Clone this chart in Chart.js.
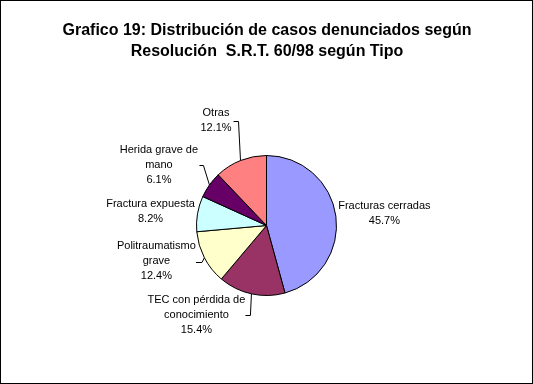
<!DOCTYPE html>
<html>
<head>
<meta charset="utf-8">
<script src="https://cdn.jsdelivr.net/npm/chart.js@4/dist/chart.umd.min.js"></script>
<style>
  html, body { margin: 0; padding: 0; background: #fff; }
  #wrap { width: 533px; height: 384px; position: relative; }
</style>
</head>
<body>
<div id="wrap"><canvas id="chart" width="533" height="384"></canvas></div>
<script>
// datos
const titleLines = ['Grafico 19: Distribución de casos denunciados según', 'Resolución  S.R.T. 60/98 según Tipo'];
const categories = [
    ['Fracturas cerradas'],
    ['TEC con pérdida de', 'conocimiento'],
    ['Politraumatismo', 'grave'],
    ['Fractura expuesta'],
    ['Herida grave de', 'mano'],
    ['Otras']
];
const percents = [45.7, 15.4, 12.4, 8.2, 6.1, 12.1];
const sliceColors = ['#9999FF', '#993366', '#FFFFCC', '#CCFFFF', '#660066', '#FF8080'];

// posición de etiquetas relativa al borde de cada porción
const labelOffsets = [[48.5, -3], [-55, 21], [-48, 3], [-47, -2], [-50.5, -19.5], [-24.5, -40.5]];
// guías: [x1, x2, dy] del tramo horizontal relativo al centro de la etiqueta
const leaders = [null, [49, 54, 0], [39.5, 45.5, 1], null, [40.5, 44.5, 0], [17.5, 22.5, 0.5]];

const FONT = 'Arial, "Liberation Sans", sans-serif';

const decorPlugin = {
    id: 'decor',
    beforeDraw(chart) {
        const ctx = chart.ctx;
        ctx.save();
        ctx.fillStyle = '#fff';
        ctx.fillRect(0, 0, chart.width, chart.height);
        ctx.fillStyle = '#000';
        ctx.font = 'bold 16px ' + FONT;
        ctx.textAlign = 'center';
        ctx.textBaseline = 'alphabetic';
        titleLines.forEach((t, i) => ctx.fillText(t, 267, 35 + i * 21));
        ctx.restore();
    },
    afterDatasetsDraw(chart) {
        const ctx = chart.ctx;
        const meta = chart.getDatasetMeta(0);
        ctx.save();
        ctx.font = '11px ' + FONT;
        ctx.fillStyle = '#000';
        ctx.strokeStyle = '#000';
        ctx.lineWidth = 1;
        ctx.textAlign = 'center';
        ctx.textBaseline = 'middle';
        meta.data.forEach((arc, i) => {
            const p = arc.getProps(['x', 'y', 'startAngle', 'endAngle', 'outerRadius'], true);
            const mid = (p.startAngle + p.endAngle) / 2;
            const ex = p.x + Math.cos(mid) * p.outerRadius;
            const ey = p.y + Math.sin(mid) * p.outerRadius;
            const cx = ex + labelOffsets[i][0];
            const cy = ey + labelOffsets[i][1];
            const lines = categories[i].concat([percents[i].toFixed(1) + '%']);
            const top = cy - (lines.length - 1) * 15 / 2;
            lines.forEach((l, j) => ctx.fillText(l, cx, top + j * 15));
            const ld = leaders[i];
            if (ld) {
                const ly = Math.round(cy + ld[2]) + 0.5;
                ctx.beginPath();
                ctx.moveTo(cx + ld[0], ly);
                ctx.lineTo(cx + ld[1], ly);
                ctx.lineTo(ex, ey);
                ctx.stroke();
            }
        });
        // marco
        ctx.strokeRect(0.5, 0.5, chart.width - 1, chart.height - 1);
        ctx.restore();
    }
};

new Chart(document.getElementById('chart'), {
    type: 'pie',
    data: {
        labels: categories,
        datasets: [{
            data: percents,
            backgroundColor: sliceColors,
            borderColor: '#000',
            borderWidth: 1
        }]
    },
    options: {
        responsive: false,
        animation: false,
        layout: { padding: { left: 196, right: 196, top: 155, bottom: 88 } },
        plugins: {
            legend: { display: false },
            tooltip: { enabled: false },
            title: { display: false }
        }
    },
    plugins: [decorPlugin]
});
</script>
</body>
</html>
